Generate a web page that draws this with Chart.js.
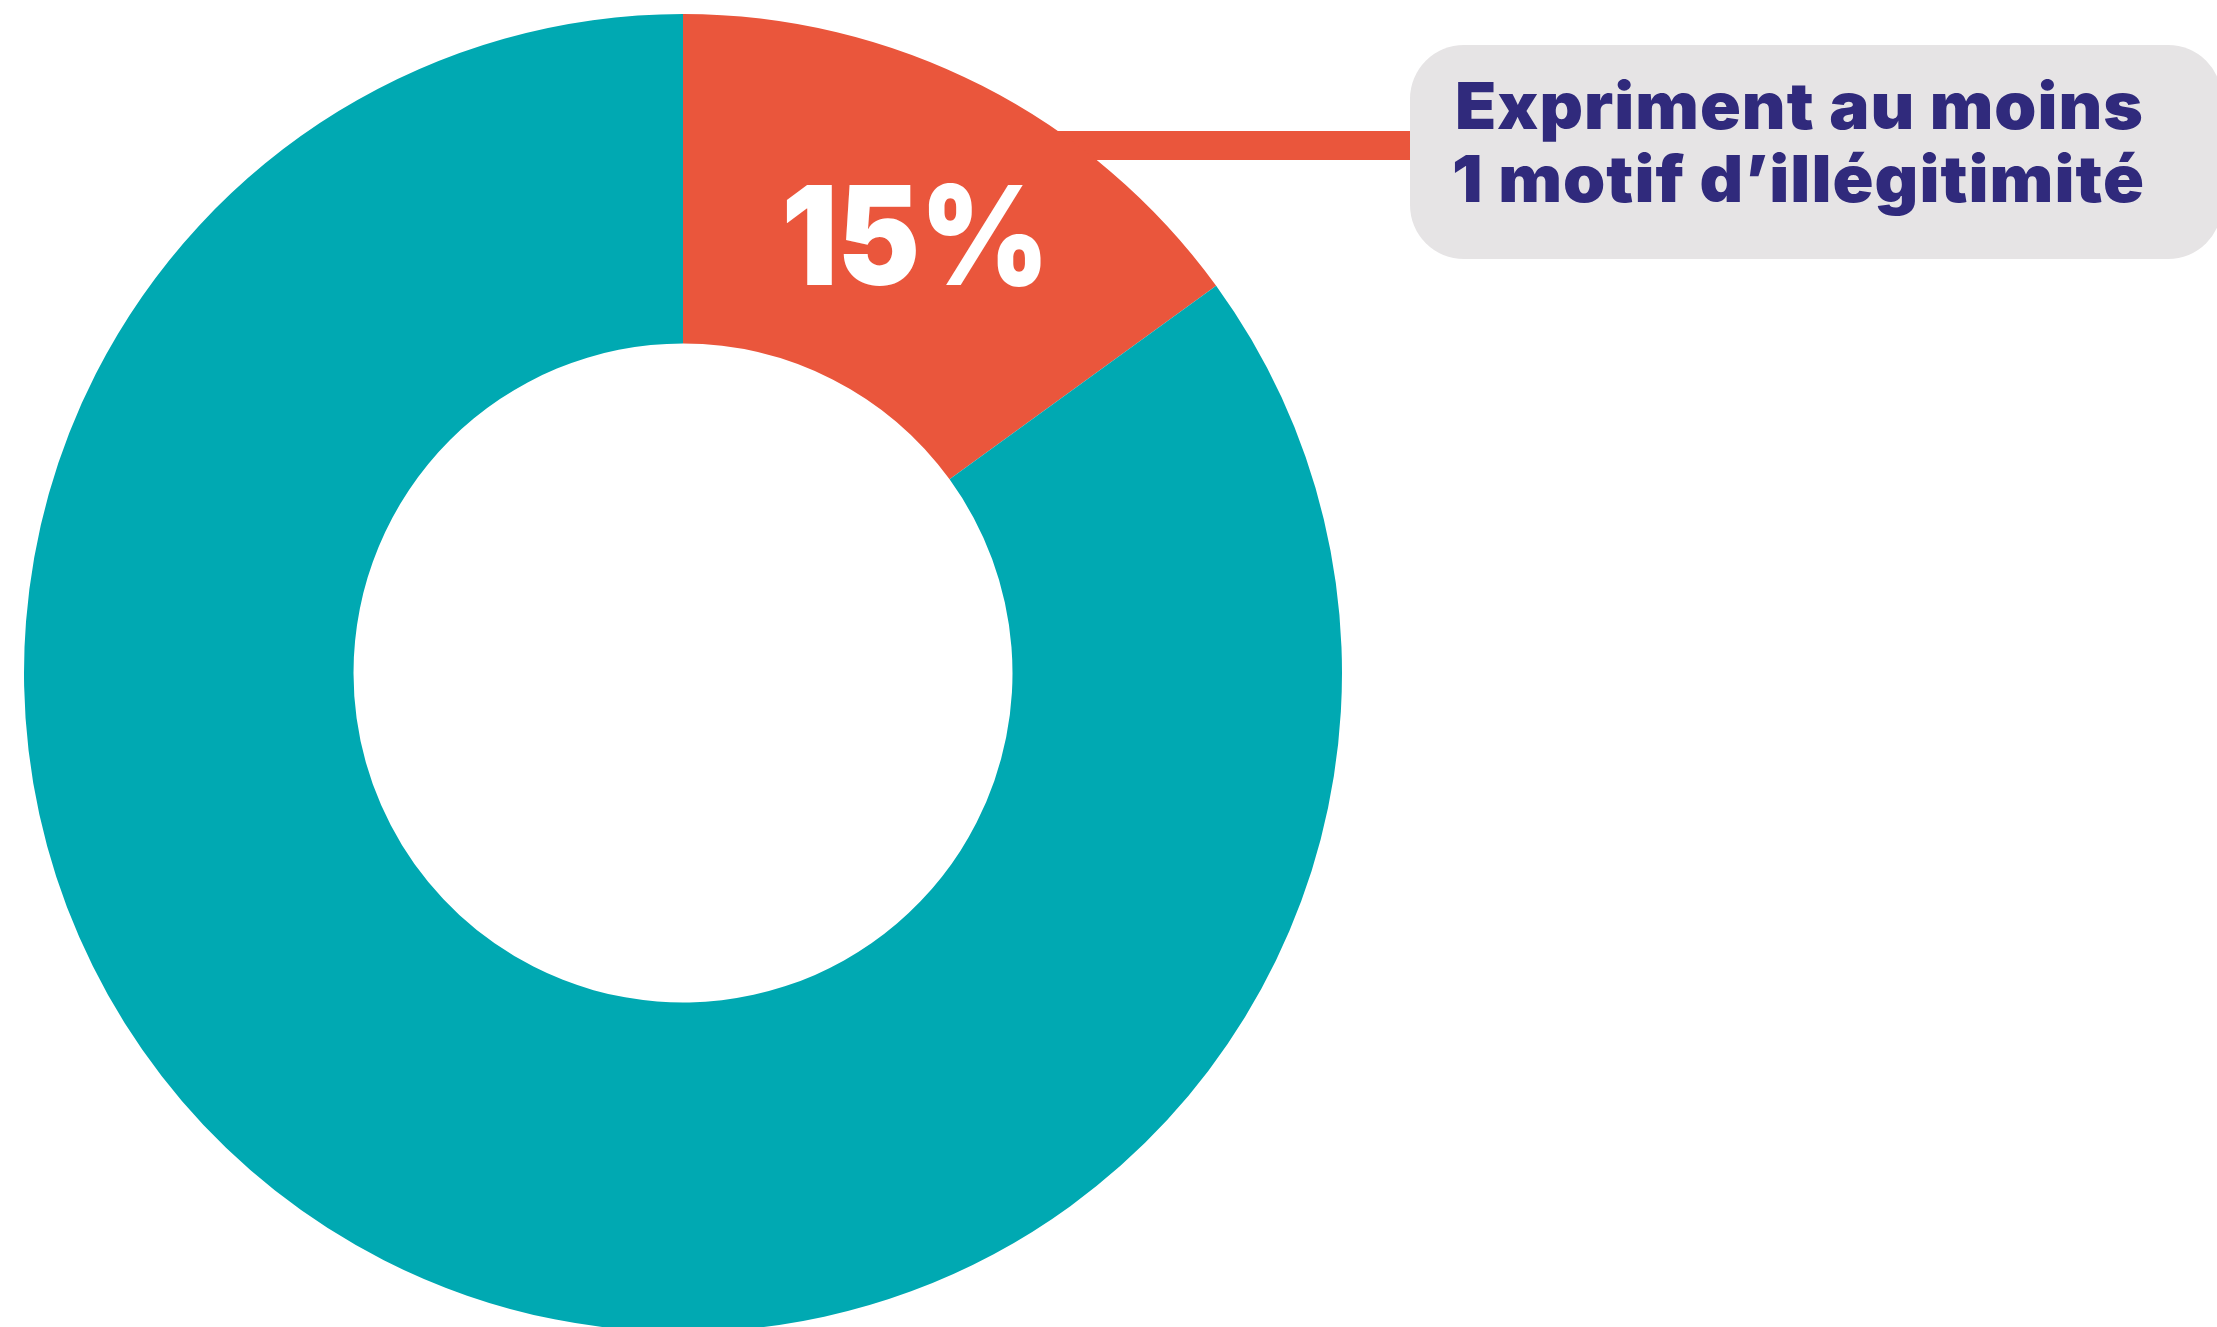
<!DOCTYPE html>
<html lang="fr">
<head>
<meta charset="utf-8">
<title>Motifs d’illégitimité</title>
<script src="https://cdn.jsdelivr.net/npm/chart.js@4/dist/chart.umd.min.js"></script>
<style>
  html, body { margin: 0; padding: 0; background: #ffffff; overflow: hidden; }
  canvas { display: block; }
</style>
</head>
<body>
<canvas id="donut" width="2217" height="1346"></canvas>
<script>
// Share of respondents citing at least one reason of illegitimacy
const categories = ['Expriment au moins 1 motif d’illégitimité', 'Autres'];
const shares = [15, 85];
const sliceColors = ['#ea563c', '#00a9b2'];
const calloutLines = ['Expriment au moins', '1 motif d’illégitimité'];

const FONT = 'Inter, "Open Sans", "DejaVu Sans", sans-serif';

function roundRect(ctx, x, y, w, h, r) {
  ctx.beginPath();
  ctx.moveTo(x + r, y);
  ctx.lineTo(x + w - r, y);
  ctx.arcTo(x + w, y, x + w, y + r, r);
  ctx.lineTo(x + w, y + h - r);
  ctx.arcTo(x + w, y + h, x + w - r, y + h, r);
  ctx.lineTo(x + r, y + h);
  ctx.arcTo(x, y + h, x, y + h - r, r);
  ctx.lineTo(x, y + r);
  ctx.arcTo(x, y, x + r, y, r);
  ctx.closePath();
}

// Draw text starting at x with its advance stretched to the given width
function fitText(ctx, text, x, y, width) {
  const mw = ctx.measureText(text).width;
  ctx.save();
  ctx.translate(x, y);
  ctx.scale(width / mw, 1);
  ctx.fillText(text, 0, 0);
  ctx.restore();
}

// Connector bar from the highlighted slice to the callout box (drawn under the arcs)
const connector = {
  id: 'connector',
  beforeDatasetsDraw(chart) {
    const ctx = chart.ctx;
    ctx.save();
    ctx.fillStyle = sliceColors[0];
    ctx.fillRect(900, 131, 520, 29);
    ctx.restore();
  }
};

// Percentage on the slice and the grey callout box
const annotations = {
  id: 'annotations',
  afterDatasetsDraw(chart) {
    const ctx = chart.ctx;
    const arc = chart.getDatasetMeta(0).data[0];
    const pos = arc.tooltipPosition();
    ctx.save();
    ctx.fillStyle = '#ffffff';
    ctx.textAlign = 'left';
    ctx.textBaseline = 'alphabetic';
    ctx.font = '900 138px ' + FONT;
    fitText(ctx, shares[0] + '%', pos.x - 126, 285, 268);

    ctx.fillStyle = '#e6e4e5';
    roundRect(ctx, 1410, 45, 812, 214, 54);
    ctx.fill();

    ctx.fillStyle = '#302a7c';
    ctx.font = '900 65px ' + FONT;
    ctx.letterSpacing = '1px';
    fitText(ctx, calloutLines[0], 1455, 129, 689);
    fitText(ctx, calloutLines[1], 1452, 202, 693);
    ctx.restore();
  }
};

new Chart(document.getElementById('donut'), {
  type: 'doughnut',
  data: {
    labels: categories,
    datasets: [{
      data: shares,
      backgroundColor: sliceColors,
      borderWidth: 0,
      hoverOffset: 0
    }]
  },
  options: {
    responsive: false,
    animation: false,
    cutout: '50%',
    layout: { padding: { left: 24, top: 14, right: 875, bottom: 14 } },
    plugins: {
      legend: { display: false },
      tooltip: { enabled: false }
    },
    events: []
  },
  plugins: [connector, annotations]
});
</script>
</body>
</html>
